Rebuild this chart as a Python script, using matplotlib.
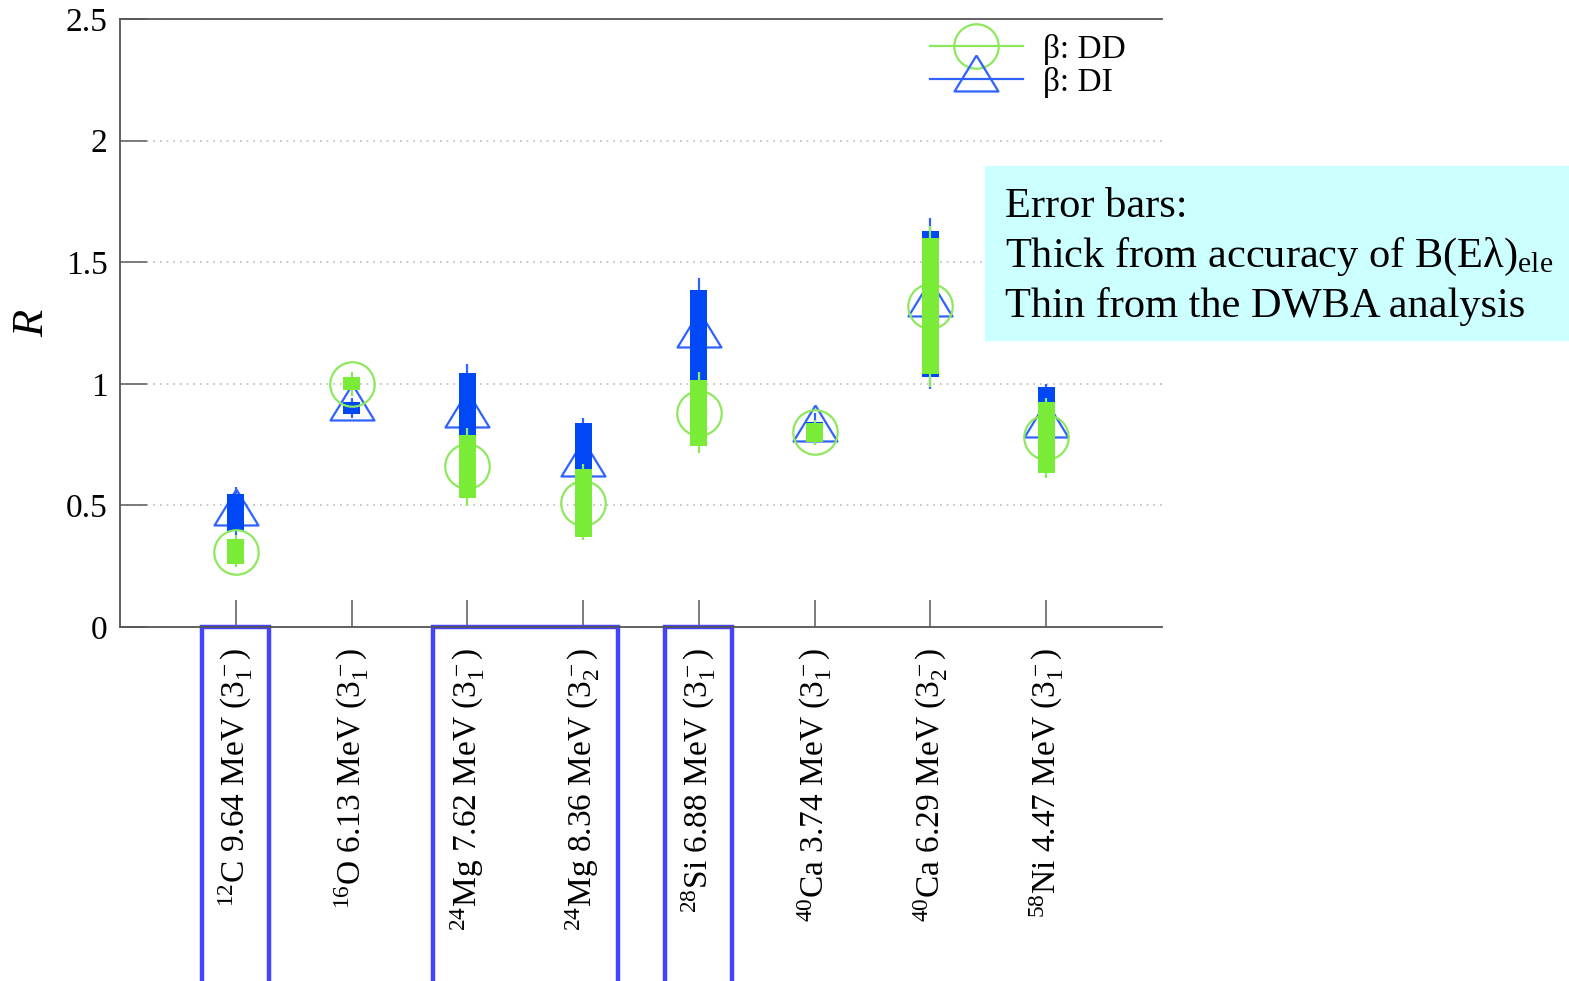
import numpy as np
import matplotlib.pyplot as plt
from matplotlib.lines import Line2D
from matplotlib.patches import Rectangle
import matplotlib.transforms as mtransforms

plt.rcParams['font.family'] = ['Liberation Serif', 'DejaVu Serif']
plt.rcParams['mathtext.fontset'] = 'custom'
plt.rcParams['mathtext.rm'] = 'Liberation Serif'
plt.rcParams['mathtext.it'] = 'Liberation Serif:italic'

# states
labels = [r'$^{12}$C 9.64 MeV (3$_1^-$)',
          r'$^{16}$O 6.13 MeV (3$_1^-$)',
          r'$^{24}$Mg 7.62 MeV (3$_1^-$)',
          r'$^{24}$Mg 8.36 MeV (3$_2^-$)',
          r'$^{28}$Si 6.88 MeV (3$_1^-$)',
          r'$^{40}$Ca 3.74 MeV (3$_1^-$)',
          r'$^{40}$Ca 6.29 MeV (3$_2^-$)',
          r'$^{58}$Ni 4.47 MeV (3$_1^-$)']

# beta: DD
dd = [0.31, 1.00, 0.66, 0.51, 0.88, 0.80, 1.32, 0.78]
dd_thick = [0.053, 0.027, 0.13, 0.14, 0.136, 0.04, 0.28, 0.146]
dd_lo = [0.247, 0.95, 0.498, 0.358, 0.715, 0.748, 0.987, 0.613]
dd_hi = [0.378, 1.05, 0.82, 0.67, 1.05, 0.85, 1.65, 0.94]

# beta: DI
di = [0.47, 0.90, 0.87, 0.67, 1.20, 0.816, 1.33, 0.83]
di_thick = [0.076, 0.025, 0.174, 0.17, 0.186, 0.027, 0.30, 0.157]
di_lo = [0.378, 0.86, 0.66, 0.47, 0.97, 0.75, 0.98, 0.66]
di_hi = [0.576, 0.94, 1.081, 0.859, 1.435, 0.88, 1.68, 1.0]

# groups of states boxed below the axis (first, last)
boxed = [(1, 1), (3, 4), (5, 5)]

x = np.arange(1, len(labels) + 1)
dd = np.array(dd); di = np.array(di)
dd_thick = np.array(dd_thick); di_thick = np.array(di_thick)

green_bar = '#7aeb36'
green_mk = '#8ee85e'
blue_bar = '#0048f5'
blue_mk = '#2f62ff'

tri = [(0, 24), (-22, -12), (22, -12), (0, 24)]

fig = plt.figure(figsize=(15.69, 9.81), dpi=100)
ax = fig.add_axes([120/1569, 1-627/981, 1042/1569, 608/981])

# DI
ax.plot(x, di, ls='none', marker=tri, ms=34.5, mfc='none', mec=blue_mk, mew=1.6, zorder=3)
ax.vlines(x, di_lo, di_hi, color=blue_mk, lw=1.6, zorder=3)
ax.bar(x, 2*di_thick, bottom=di-di_thick, width=0.145, color=blue_bar, zorder=4)
# DD
ax.plot(x, dd, ls='none', marker='o', ms=32, mfc='none', mec=green_mk, mew=1.6, zorder=5)
ax.vlines(x, dd_lo, dd_hi, color=green_mk, lw=1.6, zorder=5)
ax.bar(x, 2*dd_thick, bottom=dd-dd_thick, width=0.145, color=green_bar, zorder=6)

ax.set_xlim(0, 9)
ax.set_ylim(0, 2.5)
ax.set_xticks(x)
ax.set_xticklabels(labels, rotation=90, va='top', ha='center', fontsize=25)
ax.set_yticks([0, 0.5, 1, 1.5, 2, 2.5])
ax.set_yticklabels(['0', '0.5', '1', '1.5', '2', '2.5'])
ax.tick_params(axis='both', direction='in', length=19.5, width=1.2, color='#666666',
               labelsize=24, pad=9)
ax.tick_params(axis='x', pad=15)
ax.yaxis.grid(True, linestyle=(0, (1, 3)), color='#bbbbbb', lw=1.2)
ax.set_axisbelow(True)
for s in ['left', 'bottom', 'top']:
    ax.spines[s].set_color('#555555')
    ax.spines[s].set_linewidth(1.3)
ax.spines['right'].set_visible(False)

ax.set_ylabel('R', fontsize=32, style='italic', labelpad=10)

handles = [Line2D([], [], color=green_mk, lw=1.6, marker='o', ms=32, mfc='none', mew=1.6),
           Line2D([], [], color=blue_mk, lw=1.6, marker=tri, ms=34.5, mfc='none', mew=1.6)]
ax.legend(handles, [r'β: DD', r'β: DI'], loc='upper right', bbox_to_anchor=(0.978, 0.997),
          frameon=False, fontsize=24, handlelength=2.8, handletextpad=0.6,
          labelspacing=0.05, borderaxespad=0)

# boxes around selected state labels
trans = mtransforms.blended_transform_factory(ax.transData, ax.transAxes)
for a, b in boxed:
    pad = 0.3 if b > a else 0.29
    ax.add_patch(Rectangle((a - pad, -0.7), (b - a) + 2 * pad, 0.7, transform=trans,
                           fill=False, ec='#4444ff', lw=3.2, clip_on=False))

# note on error bars
fig.patches.append(Rectangle((985/1569, 1-340/981), (1569-985)/1569 + 0.01, 174/981,
                             transform=fig.transFigure, color='#ccffff', zorder=0))
fig.text(1005/1569, 1-207/981, 'Error bars:', fontsize=30.5, va='center')
fig.text(1005/1569, 1-257/981, r'Thick from accuracy of B(Eλ)$_{\mathrm{ele}}$', fontsize=30.5, va='center')
fig.text(1005/1569, 1-307/981, 'Thin from the DWBA analysis', fontsize=30.5, va='center')

fig.savefig('out.png', dpi=100)
